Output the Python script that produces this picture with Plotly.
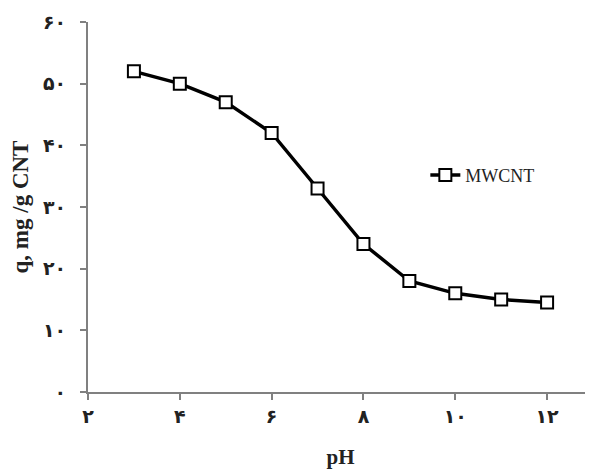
import plotly.graph_objects as go

ph = [3, 4, 5, 6, 7, 8, 9, 10, 11, 12]
q_mwcnt = [52, 50, 47, 42, 33, 24, 18, 16, 15, 14.5]

x_tickvals = [2, 4, 6, 8, 10, 12]
x_ticktext = ["<b>۲</b>", "<b>۴</b>", "<b>۶</b>", "<b>۸</b>", "<b>۱۰</b>", "<b>۱۲</b>"]
y_tickvals = [0, 10, 20, 30, 40, 50, 60]
y_ticktext = ["<b>۰</b>", "<b>۱۰</b>", "<b>۲۰</b>", "<b>۳۰</b>", "<b>۴۰</b>", "<b>۵۰</b>", "<b>۶۰</b>"]

serif = "Liberation Serif, Times New Roman, DejaVu Sans, serif"

fig = go.Figure()
fig.add_trace(go.Scatter(
    x=ph, y=q_mwcnt, mode="lines+markers", name="MWCNT",
    line=dict(color="black", width=3.5),
    marker=dict(symbol="square", size=12, color="white",
                line=dict(color="black", width=2)),
))

# page body has an 8px default margin, so the figure is sized to fit
fig.update_layout(
    width=585, height=462,
    margin=dict(l=80, r=0, t=14, b=78),
    plot_bgcolor="white", paper_bgcolor="white",
    showlegend=True,
    legend=dict(x=0.668, y=0.586, xanchor="left", yanchor="middle",
                font=dict(family=serif, size=18, color="#222"),
                bgcolor="rgba(0,0,0,0)"),
    xaxis=dict(range=[2, 13], tickvals=x_tickvals, ticktext=x_ticktext,
               automargin=False,
               showgrid=False, zeroline=False, showline=True,
               linecolor="#808080", linewidth=2,
               ticks="outside", ticklen=6, tickcolor="#808080", tickwidth=1.5,
               tickfont=dict(family=serif, size=19, color="#222"),
               title=dict(text="<b>pH</b>", font=dict(family=serif, size=21, color="#222"), standoff=24)),
    yaxis=dict(range=[0, 60], tickvals=y_tickvals, ticktext=y_ticktext,
               automargin=False,
               showgrid=False, zeroline=False, showline=True,
               linecolor="#808080", linewidth=2,
               ticks="outside", ticklen=6, tickcolor="#808080", tickwidth=1.5,
               tickfont=dict(family=serif, size=19, color="#222"),
               ticklabelstandoff=10,
               title=dict(text="<b>q, mg /g CNT</b>", font=dict(family=serif, size=23, color="#222"), standoff=10)),
)

fig.write_html("out.html")
